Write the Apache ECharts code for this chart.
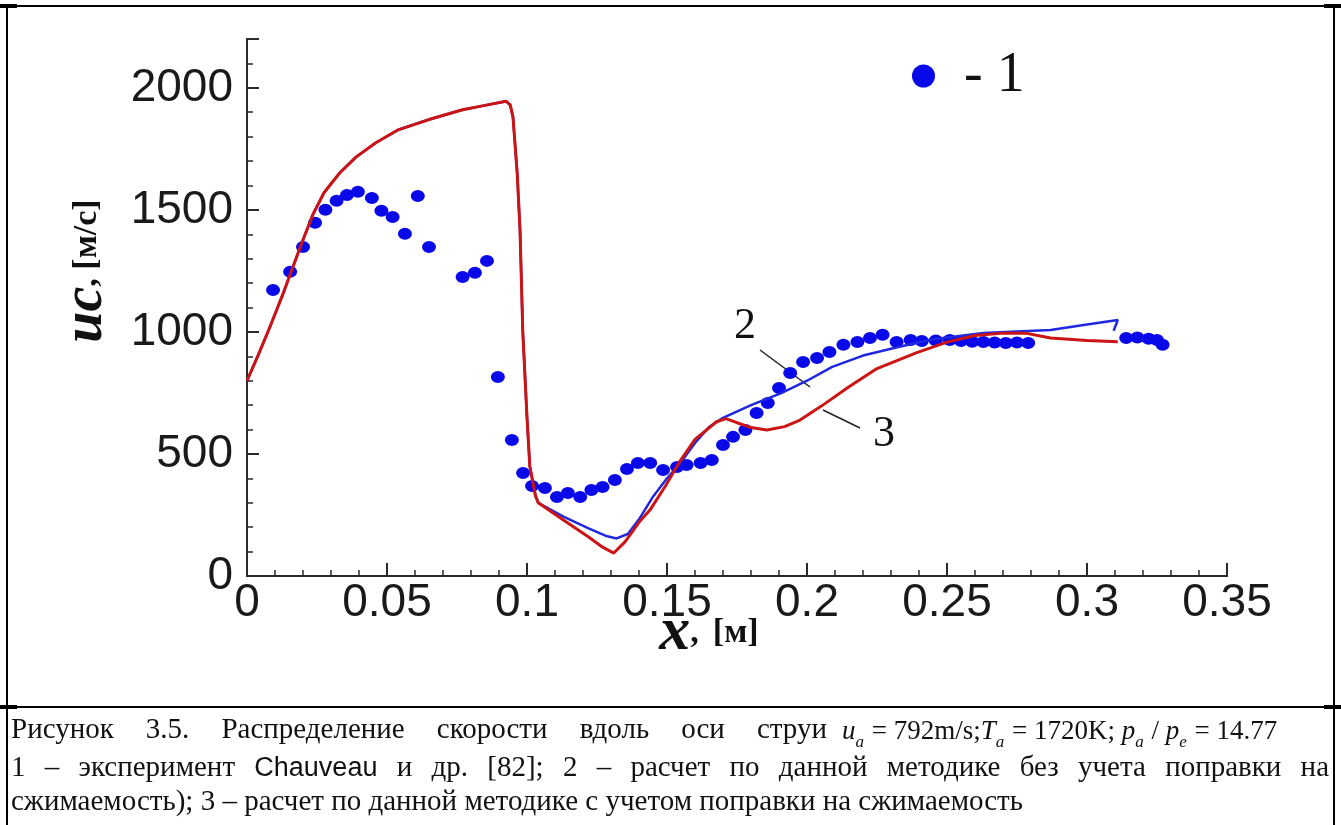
<!DOCTYPE html>
<html>
<head>
<meta charset="utf-8">
<title>Распределение скорости вдоль оси струи</title>
<script src="https://cdn.jsdelivr.net/npm/echarts@6/dist/echarts.min.js"></script>
<style>
    html, body { margin: 0; padding: 0; background: #fff; }
    #chart { width: 1341px; height: 825px; }
</style>
</head>
<body>
<div id="chart"></div>
<script>
// тики осей
var xTickLabels = ['0', '0.05', '0.1', '0.15', '0.2', '0.25', '0.3', '0.35'];
var yTickLabels = ['0', '500', '1000', '1500', '2000'];

// 1 - эксперимент Chauveau (точки)
var expData = [
    [0.0093, 1172], [0.0154, 1246], [0.020, 1348], [0.0243, 1447], [0.028, 1500],
    [0.032, 1537], [0.0357, 1561], [0.0396, 1574], [0.0446, 1549], [0.048, 1496],
    [0.052, 1471], [0.0564, 1402], [0.061, 1557], [0.065, 1348], [0.077, 1225],
    [0.0814, 1242], [0.0857, 1291], [0.0896, 815], [0.0946, 557], [0.0986, 422],
    [0.1018, 369], [0.1064, 361], [0.1107, 324], [0.1146, 340], [0.119, 324],
    [0.123, 352], [0.127, 365], [0.1314, 393], [0.1357, 438], [0.1396, 463],
    [0.144, 463], [0.1486, 434], [0.1536, 447], [0.157, 455], [0.162, 463],
    [0.166, 475], [0.170, 537], [0.1736, 570], [0.178, 598], [0.182, 668],
    [0.186, 709], [0.190, 770], [0.194, 832], [0.1986, 877], [0.2036, 893],
    [0.208, 918], [0.213, 947], [0.218, 959], [0.2225, 975], [0.227, 988],
    [0.232, 959], [0.237, 967], [0.241, 963], [0.246, 965], [0.251, 967],
    [0.255, 963], [0.259, 960], [0.263, 959], [0.267, 957], [0.271, 955],
    [0.275, 957], [0.279, 955], [0.314, 975], [0.318, 977], [0.322, 972],
    [0.325, 967], [0.327, 947]
];

// 2 - расчет без учета поправки на сжимаемость
var calcNoCorr = [
    [0, 800], [0.004, 905], [0.008, 1015], [0.013, 1160], [0.0195, 1362],
    [0.0235, 1480], [0.0275, 1570], [0.033, 1650], [0.039, 1717], [0.046, 1775],
    [0.054, 1828], [0.065, 1870], [0.077, 1910], [0.085, 1928], [0.0925, 1945],
    [0.094, 1930], [0.095, 1880], [0.0965, 1650], [0.0975, 1420], [0.0985, 1000],
    [0.1, 650], [0.101, 450], [0.103, 330], [0.104, 300], [0.113, 243],
    [0.122, 195], [0.128, 165], [0.132, 154], [0.136, 172], [0.14, 232],
    [0.145, 325], [0.15, 400], [0.1546, 460], [0.16, 545], [0.165, 610],
    [0.17, 648], [0.18, 700], [0.191, 750], [0.2, 800], [0.209, 857],
    [0.22, 903], [0.233, 939], [0.245, 970], [0.263, 996], [0.287, 1008],
    [0.3, 1030], [0.311, 1049], [0.3095, 1005]
];

// 3 - расчет с учетом поправки на сжимаемость
var calcCorr = [
    [0, 800], [0.004, 905], [0.008, 1015], [0.013, 1160], [0.0195, 1362],
    [0.0235, 1480], [0.0275, 1570], [0.033, 1650], [0.039, 1717], [0.046, 1775],
    [0.054, 1828], [0.065, 1870], [0.077, 1910], [0.085, 1928], [0.0925, 1945],
    [0.094, 1930], [0.095, 1880], [0.0965, 1650], [0.0975, 1420], [0.0985, 1000],
    [0.1, 650], [0.101, 450], [0.103, 330], [0.104, 300], [0.113, 229],
    [0.122, 160], [0.127, 118], [0.131, 94], [0.135, 140], [0.14, 220],
    [0.1439, 270], [0.1495, 370], [0.1546, 470], [0.16, 560], [0.1677, 632],
    [0.171, 645], [0.175, 628], [0.18, 608], [0.1857, 598], [0.192, 612],
    [0.1975, 639], [0.205, 695], [0.215, 775], [0.225, 850], [0.239, 914],
    [0.25, 958], [0.26, 985], [0.27, 995], [0.278, 995], [0.287, 975],
    [0.3, 965], [0.311, 960]
];

var serif = '"Liberation Serif", "Times New Roman", serif';
var sans = '"Liberation Sans", Arial, sans-serif';
var capFont = '29px ' + serif;
var capSans = '27px ' + sans;
var eqFont = '27px ' + serif;

// выравнивание строки подписи по ширине (как в тексте документа)
var ctx = document.createElement('canvas').getContext('2d');
function textW(str, font) { ctx.font = font; return ctx.measureText(str).width; }
function justify(parts, width) {
    // parts: [[text, style], ...], пробелы между словами растягиваются
    var words = [];
    parts.forEach(function (p) {
        p[0].split(' ').forEach(function (w, k) {
            if (k > 0) words.push(null);
            if (w) words.push([w, p[1]]);
        });
    });
    var used = 0, gaps = 0;
    words.forEach(function (w) {
        if (w === null) { gaps++; return; }
        used += textW(w[0], w[1] === 'a' ? capSans : capFont);
    });
    var gap = (width - used) / gaps;
    return {
        text: words.map(function (w) { return w === null ? '{sp| }' : '{' + w[1] + '|' + w[0] + '}'; }).join(''),
        gap: gap
    };
}
var line1 = justify([['Рисунок 3.5. Распределение скорости вдоль оси струи', 'n']], 816);
var line2 = justify([
    ['1 – эксперимент ', 'n'], ['Chauveau', 'a'], [' и др. [82]; 2 – расчет по данной методике без учета поправки на', 'n']
], 1318);

var myChart = echarts.init(document.getElementById('chart'));

var axisLineStyle = { color: '#2a2a2a', width: 2 };

option = {
    backgroundColor: '#ffffff',
    animation: false,
    grid: { left: 247, right: 114, top: 39, bottom: 249 },
    legend: {
        data: ['1'],
        left: 907,
        top: 43,
        itemWidth: 23,
        itemHeight: 23,
        icon: 'circle',
        formatter: function () { return '- 1'; },
        textStyle: { fontFamily: serif, fontSize: 56, color: '#111', padding: [0, 0, 0, 24] }
    },
    xAxis: [
        {
            type: 'value', min: 0, max: 0.35, interval: 0.01, position: 'bottom',
            axisLine: { onZero: false, lineStyle: axisLineStyle },
            axisTick: { inside: true, length: 6, lineStyle: { color: '#2a2a2a', width: 1.5 } },
            axisLabel: { show: false },
            splitLine: { show: false }
        },
        {
            type: 'value', min: 0, max: 0.35, interval: 0.05, position: 'bottom',
            axisLine: { onZero: false, lineStyle: axisLineStyle },
            axisTick: { inside: true, length: 13, lineStyle: { color: '#2a2a2a', width: 2 } },
            axisLabel: {
                fontFamily: sans, fontSize: 46, color: '#1a1a1a', margin: 4,
                formatter: function (v, i) { return xTickLabels[i] || ''; }
            },
            splitLine: { show: false }
        }
    ],
    yAxis: [
        {
            type: 'value', min: 0, max: 2200, interval: 100, position: 'left',
            axisLine: { show: true, onZero: false, lineStyle: axisLineStyle },
            axisTick: { show: true, inside: true, length: 6, lineStyle: { color: '#2a2a2a', width: 1.5 } },
            axisLabel: { show: false },
            splitLine: { show: false }
        },
        {
            type: 'value', min: 0, max: 2200, interval: 500, position: 'left',
            axisLine: { show: true, onZero: false, lineStyle: axisLineStyle },
            axisTick: { show: true, inside: true, length: 12, lineStyle: { color: '#2a2a2a', width: 2 } },
            axisLabel: {
                fontFamily: sans, fontSize: 46, color: '#1a1a1a', margin: 14,
                formatter: function (v, i) { return yTickLabels[i] || ''; }
            },
            splitLine: { show: false }
        }
    ],
    series: [
        {
            name: '1',
            type: 'scatter',
            data: expData,
            symbol: 'circle',
            symbolSize: [14, 12],
            itemStyle: { color: '#0808e8', opacity: 1 },
            z: 2
        },
        {
            name: '2',
            type: 'line',
            data: calcNoCorr,
            showSymbol: false,
            lineStyle: { color: '#1f28e0', width: 2.5 },
            z: 3
        },
        {
            name: '3',
            type: 'line',
            data: calcCorr,
            showSymbol: false,
            lineStyle: { color: '#cc1414', width: 3 },
            z: 4
        }
    ],
    graphic: [
        // рамка рисунка
        { type: 'line', shape: { x1: 7, y1: 6, x2: 1334, y2: 6 }, style: { stroke: '#000', lineWidth: 2 } },
        { type: 'line', shape: { x1: 0, y1: 6, x2: 17, y2: 6 }, style: { stroke: '#000', lineWidth: 4 } },
        { type: 'line', shape: { x1: 1324, y1: 6, x2: 1341, y2: 6 }, style: { stroke: '#000', lineWidth: 4 } },
        { type: 'line', shape: { x1: 7, y1: 6, x2: 7, y2: 825 }, style: { stroke: '#000', lineWidth: 2 } },
        { type: 'line', shape: { x1: 1334, y1: 6, x2: 1334, y2: 825 }, style: { stroke: '#000', lineWidth: 2 } },
        { type: 'line', shape: { x1: 7, y1: 707, x2: 1334, y2: 707 }, style: { stroke: '#000', lineWidth: 2 } },
        { type: 'line', shape: { x1: 0, y1: 707, x2: 17, y2: 707 }, style: { stroke: '#000', lineWidth: 4 } },
        { type: 'line', shape: { x1: 1324, y1: 707, x2: 1341, y2: 707 }, style: { stroke: '#000', lineWidth: 4 } },
        // подписи кривых
        { type: 'text', x: 745, y: 326, style: { text: '2', font: '44px ' + serif, fill: '#111', align: 'center', verticalAlign: 'middle' } },
        { type: 'line', shape: { x1: 760, y1: 350, x2: 810, y2: 387 }, style: { stroke: '#222', lineWidth: 1.5 } },
        { type: 'text', x: 884, y: 434, style: { text: '3', font: '44px ' + serif, fill: '#111', align: 'center', verticalAlign: 'middle' } },
        { type: 'line', shape: { x1: 823, y1: 410, x2: 860, y2: 428 }, style: { stroke: '#222', lineWidth: 1.5 } },
        // подписи осей
        {
            type: 'text', x: 115, y: 271, rotation: Math.PI / 2,
            style: {
                text: '{v|uc}{u|, [м/с]}',
                align: 'center', verticalAlign: 'bottom',
                rich: {
                    v: { font: 'italic bold 56px ' + serif, fill: '#111' },
                    u: { font: 'bold 34px ' + serif, fill: '#111' }
                }
            }
        },
        {
            type: 'text', x: 709, y: 664,
            style: {
                text: '{v|x}{u|,}{b|[м]}',
                align: 'center', verticalAlign: 'bottom',
                rich: {
                    v: { font: 'italic bold 62px ' + serif, fill: '#111' },
                    u: { font: 'bold 34px ' + serif, fill: '#111' },
                    b: { font: 'bold 34px ' + serif, fill: '#111', padding: [0, 0, 0, 14] }
                }
            }
        },
        // подпись к рисунку
        {
            type: 'text', x: 11, y: 716,
            style: {
                text: line1.text,
                rich: {
                    n: { font: capFont, fill: '#111', verticalAlign: 'top' },
                    sp: { font: capFont, width: line1.gap, verticalAlign: 'top' }
                }
            }
        },
        {
            type: 'text', x: 842, y: 718,
            style: {
                text: '{i|u}{s|a}{n| = 792m/s;}{i|T}{s|a}{n| = 1720K; }{i|p}{s|a}{n| / }{i|p}{s|e}{n| = 14.77}',
                rich: {
                    n: { font: eqFont, fill: '#111', verticalAlign: 'top' },
                    i: { font: 'italic ' + eqFont, fill: '#111', verticalAlign: 'top' },
                    s: { font: 'italic 17px ' + serif, fill: '#111', verticalAlign: 'top', padding: [16, 1, 0, 0] }
                }
            }
        },
        {
            type: 'text', x: 11, y: 754,
            style: {
                text: line2.text,
                rich: {
                    n: { font: capFont, fill: '#111' },
                    a: { font: capSans, fill: '#111' },
                    sp: { font: capFont, width: line2.gap }
                }
            }
        },
        {
            type: 'text', x: 11, y: 788,
            style: { text: 'сжимаемость); 3 – расчет по данной методике с учетом поправки на сжимаемость', font: capFont, fill: '#111' }
        }
    ]
};
myChart.setOption(option);
</script>
</body>
</html>
